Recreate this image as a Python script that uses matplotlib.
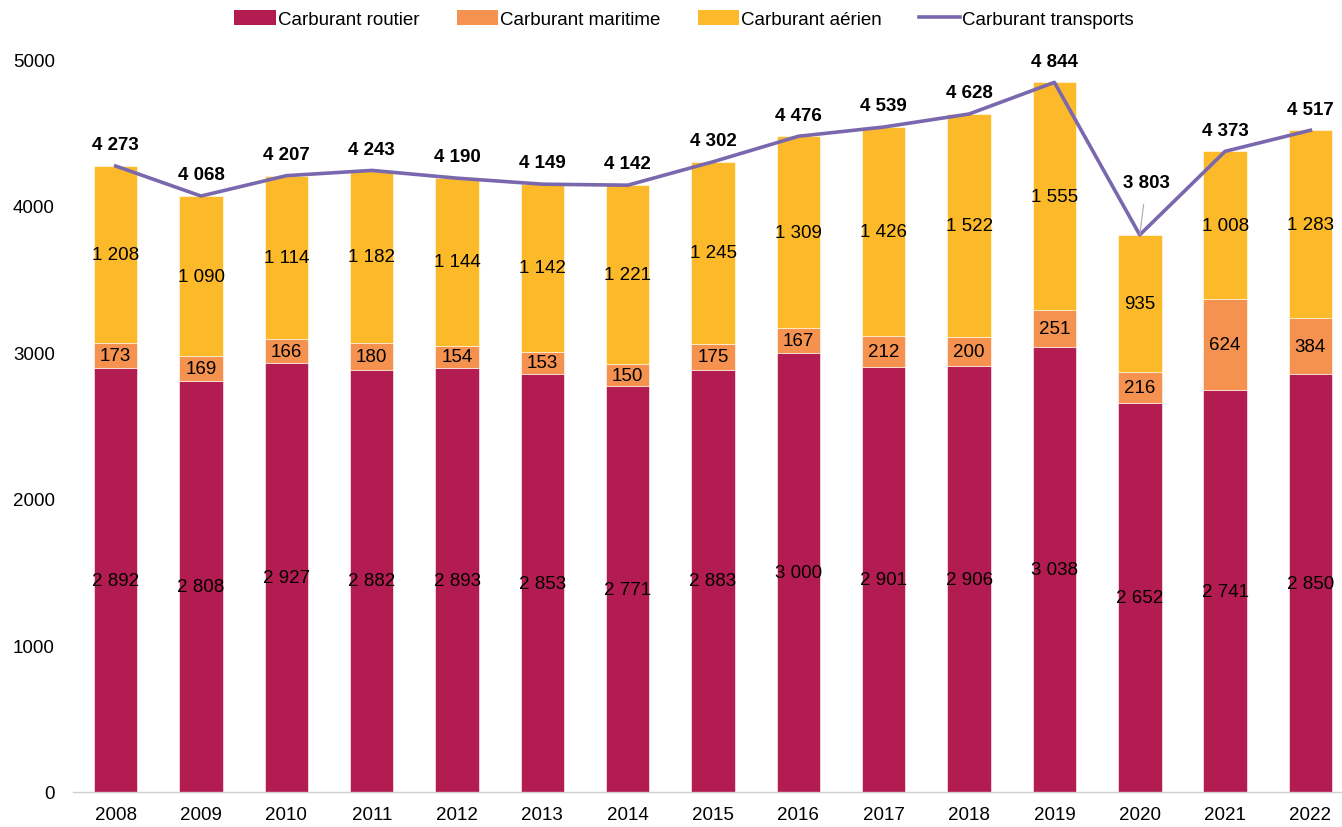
#! /usr/bin/env python3

import numpy as np
import matplotlib
matplotlib.use("Agg")
import matplotlib.pyplot as plt
from matplotlib.patches import Patch
from matplotlib.lines import Line2D

years = ["2008", "2009", "2010", "2011", "2012", "2013", "2014", "2015",
         "2016", "2017", "2018", "2019", "2020", "2021", "2022"]
routier = [2892, 2808, 2927, 2882, 2893, 2853, 2771, 2883, 3000, 2901, 2906, 3038, 2652, 2741, 2850]
maritime = [173, 169, 166, 180, 154, 153, 150, 175, 167, 212, 200, 251, 216, 624, 384]
aerien = [1208, 1090, 1114, 1182, 1144, 1142, 1221, 1245, 1309, 1426, 1522, 1555, 935, 1008, 1283]
transports = [4273, 4068, 4207, 4243, 4190, 4149, 4142, 4302, 4476, 4539, 4628, 4844, 3803, 4373, 4517]

c_routier = "#B31C51"
c_maritime = "#F5924F"
c_aerien = "#FCBA2A"
c_line = "#7A68AE"

def fmt(v):
    return "{:,}".format(v).replace(",", " ")

plt.rcParams["font.family"] = ["Liberation Sans", "DejaVu Sans"]

W, H = 1342, 828
fig = plt.figure(figsize=(W / 100, H / 100), dpi=100)
ax = fig.add_axes([73 / W, 35 / H, (1342 - 73) / W, (793 - 60.5) / H])

x = np.arange(len(years))
width = 0.51
r = np.array(routier)
m = np.array(maritime)
a = np.array(aerien)

ax.bar(x, r, width, color=c_routier, edgecolor="white", linewidth=0.4)
ax.bar(x, m, width, bottom=r, color=c_maritime, edgecolor="white", linewidth=0.4)
ax.bar(x, a, width, bottom=r + m, color=c_aerien, edgecolor="white", linewidth=0.4)
ax.plot(x, transports, color=c_line, linewidth=2.6, zorder=3)

fs = 13.5
for i in range(len(years)):
    ax.text(x[i], r[i] / 2, fmt(routier[i]), ha="center", va="center", fontsize=fs)
    ax.text(x[i], r[i] + m[i] / 2, fmt(maritime[i]), ha="center", va="center", fontsize=fs)
    ax.text(x[i], r[i] + m[i] + a[i] / 2, fmt(aerien[i]), ha="center", va="center", fontsize=fs)
    if years[i] == "2020":
        ax.annotate(fmt(transports[i]), xy=(x[i], transports[i]), xytext=(x[i] + 0.08, transports[i] + 360),
                    ha="center", va="center", fontsize=fs, fontweight="bold",
                    arrowprops=dict(arrowstyle="-", color="#aaaaaa", linewidth=0.8, shrinkA=8, shrinkB=0),
                    annotation_clip=False)
    else:
        ax.text(x[i], transports[i] + 145, fmt(transports[i]), ha="center", va="center",
                fontsize=fs, fontweight="bold", clip_on=False)

ax.set_xlim(-0.5, 14.37)
ax.set_ylim(0, 5000)
ax.set_xticks(x)
ax.set_xticklabels(years, fontsize=fs)
ax.set_yticks([0, 1000, 2000, 3000, 4000, 5000])
ax.set_yticklabels(["0", "1000", "2000", "3000", "4000", "5000"], fontsize=fs)
ax.tick_params(axis="both", length=0)
ax.tick_params(axis="y", pad=13)
ax.tick_params(axis="x", pad=10)
for s in ("top", "right", "left"):
    ax.spines[s].set_visible(False)
ax.spines["bottom"].set_color("#d0d0d0")
ax.spines["bottom"].set_linewidth(1)

handles = [
    Patch(facecolor=c_routier, label="Carburant routier"),
    Patch(facecolor=c_maritime, label="Carburant maritime"),
    Patch(facecolor=c_aerien, label="Carburant aérien"),
    Line2D([0], [0], color=c_line, linewidth=2.6, label="Carburant transports"),
]
fig.legend(handles=handles, loc="center", bbox_to_anchor=(684 / W, 1 - 20 / H), ncol=4,
           frameon=False, fontsize=fs, handlelength=2.2, handleheight=0.9,
           handletextpad=0.1, columnspacing=2.0)

fig.savefig("out.png", dpi=100)
